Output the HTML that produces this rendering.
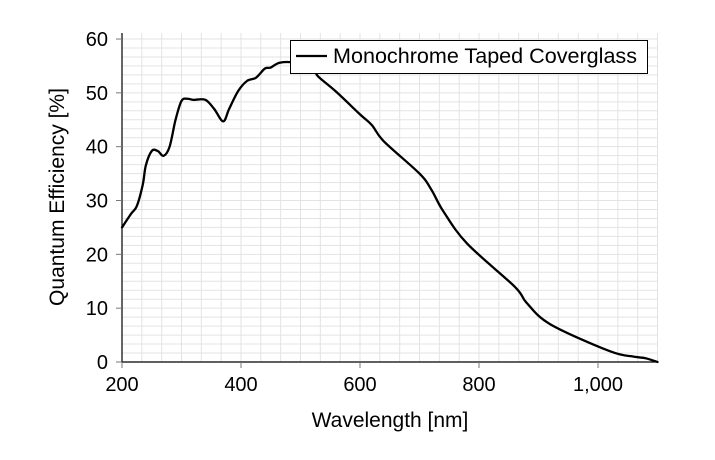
<!DOCTYPE html>
<html><head><meta charset="utf-8"><style>
html,body{margin:0;padding:0;background:#fff;}
svg{display:block;font-family:"Liberation Sans",sans-serif;}
</style></head><body>
<svg id="s" width="715" height="460" viewBox="0 0 715 460" xmlns="http://www.w3.org/2000/svg">
<g id="grid" stroke="#e3e3e3" stroke-width="1"></g>
<g id="axes"></g>
<path id="curve" fill="none" stroke="#000" stroke-width="2.3" stroke-linejoin="round" stroke-linecap="round"/>
<rect x="290.5" y="40.5" width="357" height="33" fill="#fff" stroke="#000" stroke-width="1"/>
<line x1="296" y1="56" x2="327" y2="56" stroke="#000" stroke-width="2.3"/>
<text x="333" y="63" font-size="21" textLength="304" lengthAdjust="spacingAndGlyphs">Monochrome Taped Coverglass</text>
<text x="390" y="427" font-size="21" text-anchor="middle">Wavelength [nm]</text>
<text transform="translate(64,197) rotate(-90)" font-size="21" text-anchor="middle">Quantum Efficiency [%]</text>
</svg>
<script>
const X=v=>122+(v-200)*0.595, Y=v=>362-v*5.383;
const ns="http://www.w3.org/2000/svg";
const g=document.getElementById('grid'), a=document.getElementById('axes');
function el(p,t,at,txt){const e=document.createElementNS(ns,t);for(const k in at)e.setAttribute(k,at[k]);if(txt)e.textContent=txt;p.appendChild(e);return e;}
for(let i=1;i<=27;i++){const x=X(200+i*100/3);el(g,'line',{x1:x,y1:33,x2:x,y2:362});}
for(let i=1;i<=37;i++){const y=Y(i*10/6);if(y<33)break;el(g,'line',{x1:122,y1:y,x2:657.5,y2:y});}
el(a,'line',{x1:122,y1:33,x2:122,y2:362,stroke:'#000','stroke-width':1.2});
el(a,'line',{x1:122,y1:362,x2:658,y2:362,stroke:'#000','stroke-width':1.2});
[200,400,600,800,1000].forEach(v=>{const x=X(v);el(a,'line',{x1:x,y1:362,x2:x,y2:368,stroke:'#777'});
el(a,'text',{x:x,y:391,'font-size':20,'text-anchor':'middle'},v==1000?'1,000':String(v));});
[0,10,20,30,40,50,60].forEach(v=>{const y=Y(v);el(a,'line',{x1:116,y1:y,x2:122,y2:y,stroke:'#777'});
el(a,'text',{x:108,y:y+7,'font-size':20,'text-anchor':'end'},String(v));});
const d=[[200,25],[215,27.5],[225,29],[235,33],[240,36.5],[250,39.2],[260,39.2],[270,38.3],[280,40],[290,45],[300,48.5],[310,48.9],[320,48.7],[340,48.7],[355,47],[370,44.7],[380,47],[395,50.3],[410,52.2],[425,52.8],[440,54.5],[450,54.7],[465,55.6],[490,55.6],[520,54.5],[530,53],[560,50.2],[600,46],[620,44],[640,41],[700,35],[720,32],[740,28],[780,22],[860,14],[880,11],[920,7],[1020,2],[1060,1],[1080,0.7],[1100,0]];
const p=d.map(q=>[X(q[0]),Y(q[1])]);
let s='M'+p[0][0]+','+p[0][1];
for(let i=0;i<p.length-1;i++){const p0=p[i-1]||p[i],p1=p[i],p2=p[i+1],p3=p[i+2]||p2;
s+=' C'+(p1[0]+(p2[0]-p0[0])/6)+','+(p1[1]+(p2[1]-p0[1])/6)+' '+(p2[0]-(p3[0]-p1[0])/6)+','+(p2[1]-(p3[1]-p1[1])/6)+' '+p2[0]+','+p2[1];}
document.getElementById('curve').setAttribute('d',s);
</script>
</body></html>
